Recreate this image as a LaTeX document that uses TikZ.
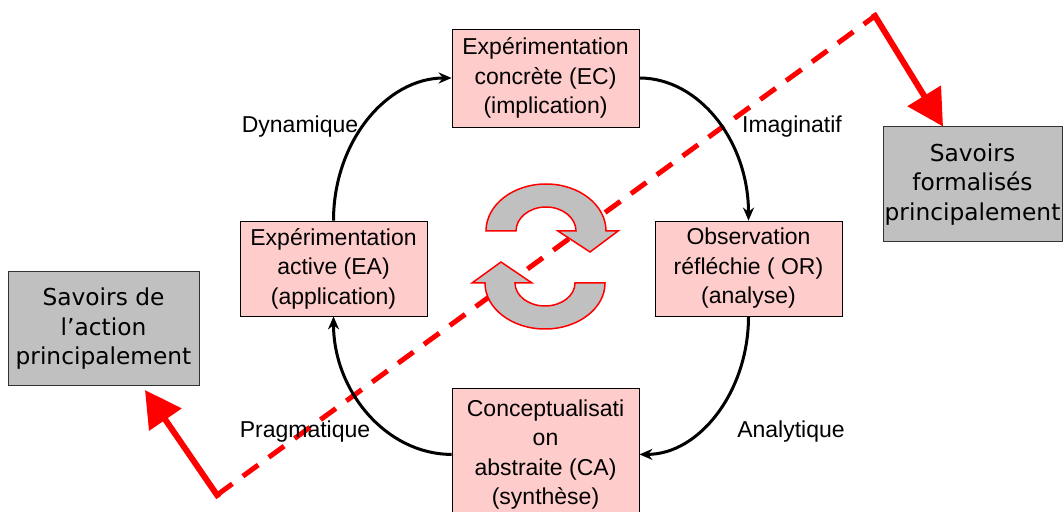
\documentclass[tikz,border=0pt]{standalone}
\usepackage{fontspec}
\setmainfont{Liberation Sans}
\newfontfamily\verd{DejaVu Sans}
\usetikzlibrary{arrows.meta}
\definecolor{pinkbox}{HTML}{FFCCCC}
\definecolor{graybox}{HTML}{C0C0C0}
\begin{document}
\begin{tikzpicture}[x=1pt,y=1pt,
  stepbox/.style={draw=black, line width=0.8pt, fill=pinkbox, minimum width=187pt, inner sep=0pt, align=center, font=\fontsize{23}{29.5}\selectfont},
  knowbox/.style={draw=black!80, line width=1pt, fill=graybox, inner sep=0pt, align=center, font=\verd\fontsize{23.3}{29.5}\selectfont},
  lbl/.style={font=\fontsize{23}{28}\selectfont, inner sep=0pt},
  cyc/.style={line width=3pt, -{Stealth[length=13pt,width=11pt]}},
  redarrow/.style={red, line width=6pt, line cap=rect, -{Triangle[length=36pt,width=38pt]}},
  reddash/.style={red, line width=5pt, dash pattern=on 19pt off 13pt},
  turn/.style={draw=red, line width=1.5pt, fill=graybox}]
\path[use as bounding box] (0,0) rectangle (1064,511);
\clip (0,0) rectangle (1064,511);

% red dashed diagonal
\coordinate (c1) at (875,495);
\coordinate (c2) at (217,16);
\draw[reddash] (c2) -- (c1);

% step boxes
\node[stepbox, minimum height=98pt] (EC) at (545.5,433) {Expérimentation\\concrète (EC)\\(implication)};
\node[stepbox, minimum height=95pt] (OR) at (748.5,242.5) {Observation\\réfléchie ( OR)\\(analyse)};
\node[stepbox, minimum height=95pt] (EA) at (333.5,242.5) {Expérimentation\\active (EA)\\(application)};
\node[stepbox, minimum height=132pt, anchor=north] (CA) at (545.5,123) {Conceptualisati\\on\\abstraite (CA)\\(synthèse)};

% knowledge boxes
\node[knowbox, minimum width=179pt, minimum height=115pt] (RB) at (972.5,326.5) {Savoirs\\formalisés\\principalement};
\node[knowbox, minimum width=191pt, minimum height=114pt] (LB) at (103.5,182) {Savoirs de\\l’action\\principalement};

% cycle connectors
\draw[cyc] (EC.east) .. controls +(60,0) and +(0,79) .. (OR.north);
\draw[cyc] (OR.south) .. controls +(0,-75) and +(60,0) .. (CA.east);
\draw[cyc] (CA.west) .. controls +(-65,0) and +(0,-75) .. (EA.south);
\draw[cyc] (EA.north) .. controls +(0,79) and +(-65,0) .. (EC.west);

% labels
\node[lbl] (l1) at (300,384) {Dynamique};
\node[lbl] (l2) at (792,384) {Imaginatif};
\node[lbl] (l3) at (791,79) {Analytique};
\node[lbl] (l4) at (305,79) {Pragmatique};

% central turning arrows
\draw[turn] (486,280) arc[start angle=180,end angle=0,x radius=60,y radius=47]
  -- (618,280) -- (590,259) -- (558,280) -- (576,280)
  arc[start angle=0,end angle=180,x radius=30,y radius=24] -- cycle;
\draw[turn] (605,228) arc[start angle=0,end angle=-180,x radius=60,y radius=46]
  -- (472,228) -- (501,249) -- (532,228) -- (515,228)
  arc[start angle=180,end angle=360,x radius=30,y radius=23] -- cycle;

% red solid arrows
\coordinate (t1) at ([xshift=-29.5pt]RB.north);
\coordinate (t2) at (145,121);
\draw[redarrow] (c1) -- (t1);
\draw[redarrow] (c2) -- (t2);
\end{tikzpicture}
\end{document}
